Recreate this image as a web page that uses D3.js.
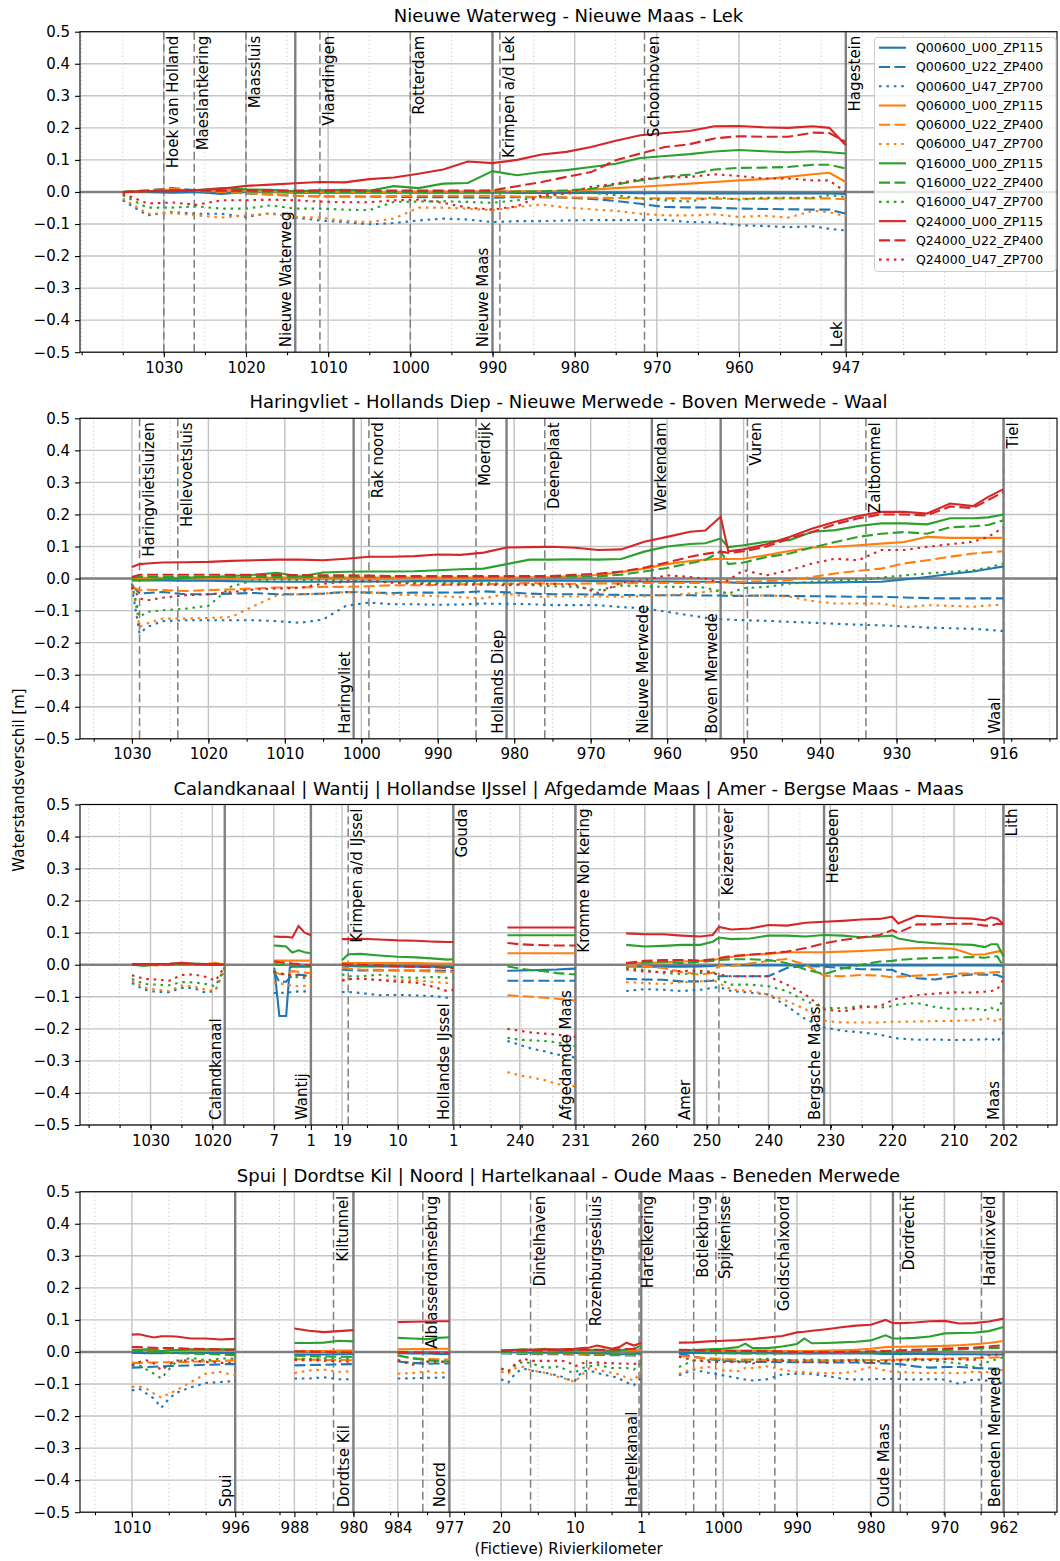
<!DOCTYPE html>
<html>
<head>
<meta charset="utf-8">
<script src="https://cdn.jsdelivr.net/npm/d3@7"></script>
<style>
  body { margin: 0; background: #fff; }
  text { font-family: "DejaVu Sans", sans-serif; fill: #000; }
</style>
</head>
<body>
<svg></svg>
<script>
// ---- data -------------------------------------------------------------
const seriesNames = [
  "Q00600_U00_ZP115", "Q00600_U22_ZP400", "Q00600_U47_ZP700",
  "Q06000_U00_ZP115", "Q06000_U22_ZP400", "Q06000_U47_ZP700",
  "Q16000_U00_ZP115", "Q16000_U22_ZP400", "Q16000_U47_ZP700",
  "Q24000_U00_ZP115", "Q24000_U22_ZP400", "Q24000_U47_ZP700"
]

// panel 1: Nieuwe Waterweg - Nieuwe Maas - Lek
const lekKm = [1035, 1032, 1029, 1026, 1023, 1020, 1017, 1014, 1011, 1008, 1005, 1002, 999, 996, 993, 990, 987, 984, 981, 978, 975, 972, 969, 966, 963, 960, 957, 954, 951, 949, 947]
const lekLevels = [
  [0, 0, -0.002, 0, -0.006, 0, 0, -0.002, -0.002, -0.002, -0.002, -0.002, -0.002, -0.002, -0.002, -0.002, -0.003, -0.003, -0.003, -0.003, -0.003, -0.004, -0.004, -0.004, -0.005, -0.005, -0.005, -0.005, -0.005, -0.005, -0.006],
  [0, 0.005, 0.012, 0.005, 0, -0.005, -0.008, -0.012, -0.014, -0.014, -0.015, -0.015, -0.016, -0.016, -0.017, -0.018, -0.016, -0.016, -0.018, -0.022, -0.028, -0.037, -0.047, -0.048, -0.049, -0.052, -0.053, -0.054, -0.055, -0.055, -0.068],
  [-0.026, -0.073, -0.063, -0.068, -0.068, -0.078, -0.066, -0.08, -0.089, -0.094, -0.101, -0.097, -0.089, -0.083, -0.086, -0.094, -0.091, -0.091, -0.089, -0.088, -0.088, -0.088, -0.087, -0.094, -0.095, -0.104, -0.106, -0.11, -0.107, -0.115, -0.12],
  [0, 0.002, 0.008, 0.004, 0.003, 0.002, 0.001, 0, 0, 0, 0, 0, 0.001, 0.001, 0.001, 0.002, 0.002, 0.002, 0.003, 0.007, 0.012, 0.016, 0.021, 0.026, 0.031, 0.036, 0.04, 0.047, 0.055, 0.06, 0.031],
  [0, 0.005, 0.01, 0.004, 0, -0.004, -0.008, -0.012, -0.013, -0.015, -0.014, -0.013, -0.012, -0.012, -0.012, -0.012, -0.014, -0.016, -0.017, -0.018, -0.019, -0.02, -0.02, -0.02, -0.021, -0.021, -0.021, -0.02, -0.02, -0.02, -0.023],
  [-0.02, -0.068, -0.066, -0.073, -0.08, -0.073, -0.068, -0.078, -0.08, -0.09, -0.094, -0.083, -0.049, -0.049, -0.052, -0.057, -0.047, -0.039, -0.049, -0.054, -0.059, -0.068, -0.073, -0.073, -0.07, -0.078, -0.074, -0.08, -0.059, -0.063, -0.076],
  [0, 0.002, 0.003, 0.005, 0.012, 0.008, 0.007, 0.002, 0.005, 0.007, 0.004, 0.018, 0.012, 0.026, 0.028, 0.065, 0.052, 0.062, 0.068, 0.078, 0.088, 0.106, 0.112, 0.118, 0.126, 0.131, 0.127, 0.124, 0.127, 0.124, 0.12],
  [0, 0.003, 0.005, 0.004, 0.003, 0.002, 0.001, 0, 0, 0, 0, 0, 0, 0, 0, 0, 0.001, 0.002, 0.005, 0.01, 0.023, 0.036, 0.047, 0.054, 0.07, 0.075, 0.076, 0.078, 0.085, 0.085, 0.073],
  [-0.01, -0.049, -0.049, -0.045, -0.052, -0.052, -0.042, -0.052, -0.052, -0.055, -0.057, -0.031, -0.03, -0.029, -0.031, -0.034, -0.026, -0.016, -0.005, -0.003, -0.01, -0.02, -0.026, -0.03, -0.016, -0.024, -0.018, -0.018, -0.018, -0.01, -0.016],
  [0, 0.002, 0.002, 0.006, 0.01, 0.019, 0.023, 0.027, 0.031, 0.03, 0.04, 0.045, 0.057, 0.07, 0.095, 0.09, 0.1, 0.117, 0.125, 0.14, 0.16, 0.177, 0.184, 0.19, 0.205, 0.206, 0.202, 0.2, 0.205, 0.2, 0.146],
  [0, 0.003, 0.005, 0.005, 0.005, 0.005, 0.005, 0.004, 0.004, 0.004, 0.004, 0.004, 0.004, 0.004, 0.004, 0.005, 0.018, 0.031, 0.047, 0.062, 0.099, 0.12, 0.14, 0.149, 0.167, 0.174, 0.172, 0.172, 0.185, 0.184, 0.156],
  [-0.005, -0.036, -0.033, -0.04, -0.026, -0.026, -0.024, -0.026, -0.03, -0.032, -0.032, -0.026, -0.024, -0.034, -0.049, -0.055, -0.045, -0.01, -0.003, 0.016, 0.026, 0.04, 0.045, 0.047, 0.055, 0.05, 0.042, 0.042, 0.036, 0.036, 0]
]
const lekTicks = [1030, 1020, 1010, 1000, 990, 980, 970, 960, 947]
const lekMarks = [
  ["Hoek van Holland", 1030, "station"], ["Maeslantkering", 1026.3, "station"], ["Maassluis", 1020, "station"],
  ["Vlaardingen", 1011, "station"], ["Rotterdam", 1000, "station"], ["Krimpen a/d Lek", 989.1, "station"],
  ["Schoonhoven", 971.5, "station"], ["Hagestein", 947, "station"],
  ["Nieuwe Waterweg", 1014, "section"], ["Nieuwe Maas", 990, "section"], ["Lek", 947, "section"]
]

// panel 2: Haringvliet - Hollands Diep - Nieuwe Merwede - Boven Merwede - Waal
const waalKm = [1030, 1029, 1028, 1026, 1023, 1020, 1017, 1014, 1011, 1008, 1005, 1002, 999, 996, 993, 990, 987, 984, 981, 978, 975, 972, 969, 966, 963, 960, 957, 955, 953, 952, 950, 947, 944, 941, 938, 935, 932, 929, 926, 923, 920, 918, 916]
const waalLevels = [
  [-0.005, -0.006, -0.006, -0.006, -0.007, -0.007, -0.008, -0.009, -0.01, -0.01, -0.01, -0.01, -0.009, -0.009, -0.008, -0.008, -0.008, -0.007, -0.007, -0.007, -0.007, -0.007, -0.008, -0.008, -0.009, -0.009, -0.01, -0.01, -0.011, -0.012, -0.014, -0.014, -0.013, -0.013, -0.012, -0.011, -0.01, -0.003, 0.005, 0.014, 0.022, 0.03, 0.038],
  [-0.021, -0.047, -0.045, -0.042, -0.049, -0.049, -0.047, -0.045, -0.049, -0.049, -0.047, -0.042, -0.044, -0.045, -0.044, -0.044, -0.043, -0.04, -0.043, -0.047, -0.049, -0.049, -0.05, -0.051, -0.052, -0.052, -0.052, -0.053, -0.053, -0.054, -0.054, -0.053, -0.054, -0.055, -0.056, -0.057, -0.057, -0.059, -0.061, -0.062, -0.062, -0.062, -0.062],
  [-0.026, -0.172, -0.151, -0.133, -0.13, -0.13, -0.13, -0.13, -0.133, -0.138, -0.128, -0.085, -0.075, -0.08, -0.08, -0.082, -0.081, -0.078, -0.079, -0.08, -0.083, -0.083, -0.083, -0.089, -0.093, -0.104, -0.115, -0.122, -0.127, -0.128, -0.13, -0.132, -0.135, -0.138, -0.141, -0.144, -0.146, -0.149, -0.153, -0.155, -0.157, -0.16, -0.164],
  [0, 0.002, 0.002, 0.002, 0.002, 0.002, 0.002, 0.002, 0.003, 0.003, 0.003, 0.003, 0.003, 0.003, 0.003, 0.003, 0.003, 0.003, 0.003, 0.004, 0.005, 0.008, 0.011, 0.02, 0.031, 0.045, 0.055, 0.059, 0.062, 0.061, 0.062, 0.073, 0.086, 0.097, 0.099, 0.104, 0.109, 0.114, 0.13, 0.127, 0.127, 0.127, 0.127],
  [-0.026, -0.036, -0.035, -0.036, -0.039, -0.036, -0.034, -0.031, -0.028, -0.028, -0.026, -0.026, -0.024, -0.021, -0.021, -0.02, -0.018, -0.018, -0.016, -0.014, -0.016, -0.016, -0.015, -0.015, -0.014, -0.014, -0.014, -0.013, -0.011, -0.01, -0.01, -0.008, -0.005, 0.005, 0.016, 0.024, 0.031, 0.047, 0.057, 0.068, 0.078, 0.082, 0.085],
  [-0.016, -0.151, -0.14, -0.125, -0.125, -0.123, -0.12, -0.085, -0.052, -0.049, -0.047, -0.042, -0.042, -0.049, -0.052, -0.055, -0.058, -0.062, -0.047, -0.057, -0.056, -0.056, -0.056, -0.057, -0.055, -0.052, -0.047, -0.042, -0.036, -0.05, -0.055, -0.052, -0.057, -0.07, -0.078, -0.078, -0.078, -0.09, -0.083, -0.085, -0.088, -0.084, -0.081],
  [-0.006, -0.005, -0.004, -0.002, 0.002, 0.005, 0.008, 0.012, 0.018, 0.006, 0.019, 0.021, 0.022, 0.022, 0.023, 0.026, 0.029, 0.031, 0.045, 0.059, 0.059, 0.06, 0.059, 0.061, 0.084, 0.1, 0.108, 0.11, 0.125, 0.098, 0.104, 0.115, 0.12, 0.146, 0.151, 0.164, 0.172, 0.172, 0.169, 0.188, 0.188, 0.191, 0.2],
  [0.003, 0.005, 0.005, 0.005, 0.005, 0.005, 0.005, 0.005, 0.005, 0.005, 0.005, 0.005, 0.005, 0.005, 0.005, 0.005, 0.005, 0.005, 0.005, 0.005, 0.005, 0.006, 0.007, 0.012, 0.022, 0.033, 0.048, 0.058, 0.085, 0.045, 0.05, 0.067, 0.078, 0.097, 0.114, 0.13, 0.14, 0.145, 0.14, 0.16, 0.163, 0.167, 0.182],
  [-0.016, -0.12, -0.104, -0.099, -0.094, -0.085, -0.025, -0.005, -0.003, -0.005, -0.005, -0.007, -0.01, -0.01, -0.013, -0.013, -0.013, -0.014, -0.016, -0.02, -0.024, -0.026, -0.036, -0.022, -0.024, -0.026, -0.026, -0.028, -0.042, -0.047, -0.03, -0.026, -0.016, -0.01, -0.005, -0.005, 0.003, 0.01, 0.016, 0.021, 0.026, 0.034, 0.047],
  [0.036, 0.045, 0.047, 0.05, 0.051, 0.052, 0.055, 0.057, 0.059, 0.059, 0.057, 0.062, 0.068, 0.068, 0.07, 0.075, 0.074, 0.081, 0.097, 0.098, 0.099, 0.096, 0.089, 0.091, 0.115, 0.13, 0.146, 0.15, 0.193, 0.085, 0.091, 0.107, 0.13, 0.156, 0.177, 0.195, 0.208, 0.208, 0.203, 0.234, 0.226, 0.255, 0.279],
  [0.005, 0.012, 0.012, 0.012, 0.012, 0.012, 0.012, 0.012, 0.011, 0.011, 0.01, 0.01, 0.009, 0.008, 0.008, 0.008, 0.008, 0.008, 0.008, 0.008, 0.008, 0.012, 0.015, 0.022, 0.034, 0.05, 0.068, 0.077, 0.084, 0.08, 0.085, 0.1, 0.125, 0.145, 0.17, 0.188, 0.2, 0.2, 0.197, 0.225, 0.22, 0.245, 0.27],
  [-0.026, -0.062, -0.068, -0.06, -0.052, -0.049, -0.042, -0.034, -0.031, -0.029, -0.016, -0.01, -0.007, -0.013, -0.016, -0.018, -0.019, -0.019, -0.021, -0.018, -0.016, -0.02, -0.045, -0.013, -0.005, 0.01, 0.005, 0, -0.013, -0.005, 0.026, 0.01, 0.026, 0.047, 0.062, 0.057, 0.089, 0.089, 0.099, 0.107, 0.115, 0.13, 0.16]
]
const waalTicks = [1030, 1020, 1010, 1000, 990, 980, 970, 960, 950, 940, 930, 916]
const waalMarks = [
  ["Haringvlietsluizen", 1029, "station"], ["Hellevoetsluis", 1024, "station"], ["Rak noord", 999, "station"],
  ["Moerdijk", 985, "station"], ["Deeneplaat", 976, "station"], ["Werkendam", 962, "station"],
  ["Vuren", 949.5, "station"], ["Zaltbommel", 934, "station"], ["Tiel", 916, "station"],
  ["Haringvliet", 1001, "section"], ["Hollands Diep", 981, "section"], ["Nieuwe Merwede", 962, "section"],
  ["Boven Merwede", 953, "section"], ["Waal", 916, "section"]
]

// panel 3: Calandkanaal | Wantij | Hollandse IJssel | Afgedamde Maas | Amer - Bergse Maas - Maas
const calandKm = [1033, 1031, 1029, 1027, 1025, 1023, 1021, 1019.5, 1018]
const calandLevels = [
  [0.001, 0, 0, 0, 0, 0, 0, 0, 0],
  [0, 0, -0.001, -0.001, -0.001, -0.001, -0.001, -0.001, 0],
  [-0.057, -0.078, -0.085, -0.086, -0.072, -0.073, -0.088, -0.08, -0.012],
  [0.002, 0.001, 0, 0.001, 0.002, 0.001, 0.002, 0.006, 0],
  [0, 0, -0.002, -0.001, 0, -0.001, 0, 0.003, 0],
  [-0.05, -0.072, -0.078, -0.082, -0.065, -0.068, -0.078, -0.082, -0.012],
  [0, -0.004, 0.002, 0.002, 0.003, 0.004, 0.002, 0.001, 0],
  [0, 0, 0, 0, 0.001, 0.001, 0, 0, 0],
  [-0.044, -0.06, -0.062, -0.064, -0.054, -0.055, -0.06, -0.067, -0.008],
  [0.002, 0.002, 0.002, 0.003, 0.006, 0.003, 0.002, 0.002, 0],
  [0.001, 0.001, 0.001, 0.002, 0.004, 0.002, 0.001, 0.001, 0],
  [-0.033, -0.044, -0.046, -0.05, -0.032, -0.03, -0.038, -0.05, -0.005]
]
const calandTicks = [1030, 1020]
const calandMarks = [["Calandkanaal", 1018, "section"]]

const wantijKm = [7, 6.9, 6.1, 5, 4.4, 4, 3, 2, 1]
const wantijLevels = [
  [-0.01, -0.012, -0.16, -0.16, -0.008, -0.006, -0.005, -0.006, -0.006],
  [-0.02, -0.025, -0.053, -0.053, -0.04, -0.036, -0.031, -0.033, -0.036],
  [-0.088, -0.088, -0.088, -0.087, -0.086, -0.085, -0.083, -0.083, -0.083],
  [0.013, 0.013, 0.013, 0.013, 0.013, 0.013, 0.013, 0.013, 0.013],
  [-0.024, -0.025, -0.028, -0.03, -0.024, -0.02, -0.022, -0.024, -0.027],
  [-0.055, -0.056, -0.058, -0.062, -0.064, -0.065, -0.067, -0.066, -0.064],
  [0.06, 0.06, 0.059, 0.057, 0.045, 0.038, 0.045, 0.039, 0.036],
  [0.002, 0.002, 0, 0, -0.001, -0.002, -0.003, -0.004, -0.004],
  [-0.025, -0.025, -0.028, -0.03, -0.033, -0.035, -0.04, -0.042, -0.045],
  [0.088, 0.088, 0.087, 0.087, 0.086, 0.085, 0.121, 0.1, 0.092],
  [0.01, 0.01, 0.008, 0.006, 0.005, 0.004, 0.002, 0, -0.002],
  [-0.021, -0.022, -0.026, -0.031, -0.032, -0.033, -0.031, -0.035, -0.038]
]
const wantijTicks = [7, 1]
const wantijMarks = [["Wantij", 1, "section"]]

const ijsselKm = [19, 18, 16, 13, 10, 7, 4, 2, 1]
const ijsselLevels = [
  [-0.003, -0.004, -0.005, -0.005, -0.005, -0.006, -0.006, -0.007, -0.007],
  [-0.015, -0.017, -0.018, -0.018, -0.018, -0.018, -0.018, -0.019, -0.019],
  [-0.085, -0.085, -0.088, -0.095, -0.094, -0.096, -0.098, -0.103, -0.103],
  [0.005, 0.005, 0.005, 0.005, 0.005, 0.005, 0.004, 0.004, 0.004],
  [-0.008, -0.012, -0.015, -0.016, -0.017, -0.019, -0.021, -0.023, -0.023],
  [-0.047, -0.045, -0.043, -0.047, -0.047, -0.049, -0.054, -0.057, -0.054],
  [0.014, 0.033, 0.034, 0.029, 0.025, 0.023, 0.019, 0.016, 0.017],
  [0, -0.002, -0.003, -0.004, -0.005, -0.006, -0.007, -0.008, -0.008],
  [-0.03, -0.036, -0.036, -0.031, -0.038, -0.041, -0.038, -0.041, -0.04],
  [0.08, 0.08, 0.081, 0.079, 0.076, 0.075, 0.072, 0.071, 0.071],
  [0.002, 0.001, 0, -0.002, -0.004, -0.006, -0.008, -0.01, -0.01],
  [-0.05, -0.045, -0.043, -0.048, -0.053, -0.056, -0.07, -0.082, -0.078]
]
const ijsselTicks = [19, 10, 1]
const ijsselMarks = [["Krimpen a/d IJssel", 18, "station"], ["Gouda", 1, "station"], ["Hollandse IJssel", 1, "section"]]

const afgedamdeKm = [242, 240, 238, 236, 234, 232, 231]
const afgedamdeLevels = [
  [-0.019, -0.018, -0.017, -0.016, -0.015, -0.013, -0.012],
  [-0.05, -0.05, -0.05, -0.05, -0.05, -0.05, -0.05],
  [-0.238, -0.25, -0.262, -0.27, -0.28, -0.285, -0.29],
  [0.036, 0.036, 0.036, 0.036, 0.036, 0.036, 0.036],
  [-0.095, -0.098, -0.1, -0.103, -0.106, -0.11, -0.112],
  [-0.335, -0.345, -0.352, -0.36, -0.372, -0.378, -0.378],
  [0.092, 0.092, 0.092, 0.092, 0.092, 0.092, 0.092],
  [-0.005, -0.012, -0.017, -0.02, -0.026, -0.029, -0.03],
  [-0.228, -0.234, -0.236, -0.238, -0.242, -0.25, -0.254],
  [0.116, 0.116, 0.116, 0.116, 0.116, 0.116, 0.116],
  [0.068, 0.064, 0.062, 0.061, 0.06, 0.06, 0.06],
  [-0.2, -0.206, -0.212, -0.215, -0.218, -0.222, -0.225]
]
const afgedamdeTicks = [240, 231]
const afgedamdeMarks = [["Kromme Nol kering", 231, "station"], ["Afgedamde Maas", 231, "section"]]

const maasKm = [263, 260, 257, 254, 251, 249, 248, 246, 243, 240, 237, 234, 231, 228, 225, 222, 220, 219, 216, 213, 210, 207, 205, 204, 203, 202]
const maasLevels = [
  [-0.005, -0.006, -0.006, -0.006, -0.005, -0.004, -0.001, -0.002, -0.002, -0.002, -0.002, -0.002, -0.002, -0.002, -0.002, -0.002, -0.002, -0.002, -0.002, -0.002, -0.002, -0.002, -0.002, -0.002, -0.002, -0.003],
  [-0.044, -0.046, -0.047, -0.052, -0.052, -0.05, -0.036, -0.036, -0.036, -0.036, -0.01, -0.004, -0.006, -0.01, -0.014, -0.015, -0.016, -0.025, -0.042, -0.046, -0.036, -0.03, -0.031, -0.031, -0.032, -0.04],
  [-0.082, -0.076, -0.078, -0.082, -0.078, -0.072, -0.07, -0.082, -0.087, -0.093, -0.129, -0.17, -0.196, -0.206, -0.211, -0.218, -0.227, -0.23, -0.234, -0.233, -0.235, -0.234, -0.233, -0.23, -0.24, -0.211],
  [0.005, 0.005, 0.008, 0.01, 0.012, 0.015, 0.018, 0.024, 0.031, 0.034, 0.039, 0.039, 0.039, 0.041, 0.043, 0.046, 0.048, 0.05, 0.052, 0.052, 0.05, 0.031, 0.033, 0.037, 0.041, 0.044],
  [-0.002, -0.005, -0.01, -0.023, -0.031, -0.025, -0.002, -0.004, 0.004, 0.012, 0.018, 0, -0.034, -0.036, -0.032, -0.034, -0.039, -0.037, -0.034, -0.031, -0.028, -0.027, -0.026, -0.024, -0.023, -0.023],
  [-0.054, -0.057, -0.06, -0.054, -0.052, -0.047, -0.057, -0.077, -0.082, -0.093, -0.113, -0.139, -0.175, -0.18, -0.18, -0.18, -0.178, -0.178, -0.177, -0.176, -0.175, -0.173, -0.17, -0.167, -0.18, -0.16],
  [0.062, 0.057, 0.059, 0.062, 0.062, 0.072, 0.085, 0.08, 0.082, 0.091, 0.091, 0.088, 0.093, 0.091, 0.086, 0.088, 0.091, 0.082, 0.072, 0.067, 0.064, 0.062, 0.055, 0.064, 0.064, 0.026],
  [0.005, 0.007, 0.01, 0.005, 0.01, 0.012, 0.015, 0.017, 0.017, 0.015, 0.005, -0.015, -0.029, -0.012, 0, 0.01, 0.012, 0.015, 0.019, 0.021, 0.023, 0.024, 0.022, 0.025, 0.026, -0.005],
  [-0.01, -0.016, -0.026, -0.029, -0.026, -0.018, -0.046, -0.062, -0.062, -0.067, -0.082, -0.113, -0.134, -0.136, -0.129, -0.134, -0.129, -0.124, -0.119, -0.132, -0.139, -0.136, -0.142, -0.134, -0.145, -0.105],
  [0.098, 0.095, 0.095, 0.091, 0.088, 0.093, 0.118, 0.11, 0.113, 0.124, 0.122, 0.131, 0.134, 0.137, 0.141, 0.143, 0.15, 0.129, 0.153, 0.15, 0.146, 0.144, 0.139, 0.148, 0.144, 0.127],
  [0.005, 0.012, 0.015, 0.015, 0.013, 0.017, 0.021, 0.027, 0.031, 0.036, 0.041, 0.052, 0.067, 0.077, 0.085, 0.093, 0.108, 0.1, 0.126, 0.126, 0.128, 0.128, 0.122, 0.122, 0.128, 0.126],
  [-0.015, -0.021, -0.023, -0.019, -0.019, -0.026, -0.031, -0.036, -0.036, -0.036, -0.062, -0.093, -0.139, -0.146, -0.133, -0.129, -0.111, -0.105, -0.095, -0.09, -0.086, -0.087, -0.084, -0.082, -0.077, -0.045]
]
const maasTicks = [260, 250, 240, 230, 220, 210, 202]
const maasMarks = [
  ["Keizersveer", 248, "station"], ["Heesbeen", 231, "station"], ["Lith", 202, "station"],
  ["Amer", 252, "section"], ["Bergsche Maas", 231, "section"], ["Maas", 202, "section"]
]

// panel 4: Spui | Dordtse Kil | Noord | Hartelkanaal - Oude Maas - Beneden Merwede
const spuiKm = [1010, 1009, 1008, 1007, 1006, 1005, 1004, 1002, 1000, 998, 997, 996]
const spuiLevels = [
  [-0.003, -0.003, -0.004, -0.004, -0.004, -0.003, -0.003, -0.003, -0.003, -0.003, -0.003, -0.003],
  [-0.049, -0.048, -0.047, -0.046, -0.045, -0.044, -0.043, -0.042, -0.04, -0.039, -0.038, -0.038],
  [-0.12, -0.115, -0.13, -0.146, -0.174, -0.146, -0.128, -0.11, -0.097, -0.094, -0.092, -0.091],
  [0.003, 0.003, 0.003, 0.003, 0.003, 0.003, 0.003, 0.003, 0.003, 0.003, 0.003, 0.003],
  [-0.034, -0.034, -0.033, -0.033, -0.032, -0.032, -0.032, -0.031, -0.029, -0.028, -0.027, -0.026],
  [-0.109, -0.108, -0.115, -0.13, -0.143, -0.13, -0.12, -0.094, -0.068, -0.062, -0.068, -0.073],
  [0.006, 0.007, 0.008, 0.008, 0.002, 0.006, 0.006, 0.008, 0.008, 0.008, 0.008, 0.008],
  [0.004, 0.003, 0.002, 0, -0.002, -0.003, -0.004, -0.005, -0.006, -0.008, -0.009, -0.01],
  [-0.042, -0.041, -0.055, -0.068, -0.083, -0.055, -0.031, -0.018, -0.026, -0.021, -0.02, -0.021],
  [0.054, 0.055, 0.05, 0.045, 0.049, 0.049, 0.048, 0.042, 0.042, 0.039, 0.04, 0.041],
  [0.015, 0.015, 0.014, 0.013, 0.012, 0.012, 0.012, 0.01, 0.009, 0.008, 0.007, 0.007],
  [-0.042, -0.031, -0.026, -0.036, -0.057, -0.04, -0.027, -0.026, -0.031, -0.034, -0.034, -0.033]
]
const spuiTicks = [1010, 996]
const spuiMarks = [["Spui", 996, "section"]]

const kilKm = [988, 986, 984, 982, 980]
const kilLevels = [
  [-0.008, -0.008, -0.008, -0.007, -0.007],
  [-0.042, -0.041, -0.04, -0.039, -0.038],
  [-0.083, -0.083, -0.079, -0.085, -0.085],
  [0.003, 0.003, 0.003, 0.004, 0.004],
  [-0.023, -0.024, -0.025, -0.025, -0.026],
  [-0.066, -0.058, -0.055, -0.062, -0.06],
  [0.028, 0.028, 0.029, 0.035, 0.033],
  [-0.012, -0.013, -0.014, -0.015, -0.016],
  [-0.02, -0.022, -0.02, -0.02, -0.022],
  [0.073, 0.066, 0.062, 0.065, 0.068],
  [0.002, 0.001, 0, -0.001, -0.002],
  [-0.025, -0.026, -0.027, -0.029, -0.031]
]
const kilTicks = [988, 980]
const kilMarks = [["Kiltunnel", 982.7, "station"], ["Dordtse Kil", 980, "section"]]

const noordKm = [984, 982, 980, 978.5, 977]
const noordLevels = [
  [-0.004, -0.005, -0.005, -0.006, -0.006],
  [-0.03, -0.034, -0.037, -0.036, -0.036],
  [-0.083, -0.082, -0.081, -0.08, -0.079],
  [0.008, 0.009, 0.009, 0.01, 0.01],
  [-0.012, -0.02, -0.022, -0.023, -0.024],
  [-0.068, -0.066, -0.06, -0.066, -0.063],
  [0.044, 0.042, 0.04, 0.044, 0.046],
  [-0.01, -0.02, -0.026, -0.028, -0.03],
  [-0.025, -0.036, -0.032, -0.031, -0.031],
  [0.093, 0.094, 0.095, 0.096, 0.096],
  [0, -0.001, -0.002, -0.003, -0.003],
  [-0.026, -0.04, -0.03, -0.03, -0.031]
]
const noordTicks = [984, 977]
const noordMarks = [["Alblasserdamsebrug", 980.6, "station"], ["Noord", 977, "section"]]

const hartelKm = [20, 19, 18, 17, 16, 14, 12, 11, 10, 9, 8, 7, 6, 5, 4, 3, 2, 1]
const hartelLevels = [
  [0, 0, -0.001, -0.001, -0.002, -0.002, -0.002, -0.003, -0.003, -0.004, -0.004, -0.004, -0.005, -0.006, -0.007, -0.007, -0.006, -0.004],
  [-0.005, -0.005, -0.006, -0.006, -0.006, -0.007, -0.007, -0.008, -0.008, -0.008, -0.009, -0.009, -0.009, -0.01, -0.01, -0.011, -0.011, -0.012],
  [-0.085, -0.095, -0.065, -0.052, -0.058, -0.065, -0.075, -0.085, -0.09, -0.06, -0.058, -0.065, -0.072, -0.075, -0.083, -0.095, -0.104, -0.08],
  [0.003, 0.003, 0.003, 0.003, 0.003, 0.003, 0.003, 0.003, 0.003, 0.004, 0.004, 0.004, 0.004, 0.004, 0.005, 0.005, 0.006, 0.007],
  [-0.003, -0.003, -0.004, -0.004, -0.004, -0.005, -0.005, -0.005, -0.006, -0.006, -0.006, -0.007, -0.007, -0.008, -0.008, -0.009, -0.01, -0.015],
  [-0.062, -0.066, -0.05, -0.046, -0.057, -0.065, -0.08, -0.085, -0.094, -0.07, -0.05, -0.055, -0.06, -0.065, -0.07, -0.08, -0.09, -0.06],
  [0.005, 0.006, 0.007, 0.008, 0.006, 0.01, 0.002, 0.004, 0.005, 0.006, 0.006, 0.007, 0.004, 0.002, 0.004, 0.008, 0.01, 0.02],
  [0, 0, -0.001, -0.001, -0.002, -0.002, -0.003, -0.003, -0.004, -0.004, -0.005, -0.005, -0.005, -0.006, -0.006, -0.006, -0.007, -0.008],
  [-0.052, -0.06, -0.04, -0.03, -0.035, -0.05, -0.045, -0.06, -0.065, -0.05, -0.045, -0.04, -0.045, -0.05, -0.05, -0.05, -0.055, -0.035],
  [0.003, 0.004, 0.006, 0.007, 0.007, 0.008, 0.008, 0.009, 0.01, 0.012, 0.014, 0.02, 0.015, 0.01, 0.015, 0.029, 0.02, 0.028],
  [0.004, 0.004, 0.005, 0.005, 0.005, 0.005, 0.006, 0.006, 0.006, 0.006, 0.007, 0.007, 0.007, 0.008, 0.008, 0.009, 0.01, 0.012],
  [-0.052, -0.06, -0.035, -0.02, -0.028, -0.028, -0.027, -0.03, -0.045, -0.035, -0.034, -0.033, -0.034, -0.035, -0.036, -0.036, -0.038, -0.03]
]
const hartelTicks = [20, 10, 1]
const hartelMarks = [
  ["Dintelhaven", 16, "station"], ["Rozenburgsesluis", 8.4, "station"], ["Hartelkering", 1.3, "station"],
  ["Hartelkanaal", 1, "section"]
]

const oudeMaasKm = [1006, 1004, 1002, 1000, 998, 997, 996, 994, 992, 990, 989, 988, 986, 984, 982, 980, 978, 977, 976, 974, 972, 970, 968, 966, 964, 962]
const oudeMaasLevels = [
  [-0.003, -0.003, -0.004, -0.004, -0.004, -0.004, -0.004, -0.004, -0.005, -0.005, -0.005, -0.005, -0.005, -0.005, -0.005, -0.005, -0.006, -0.006, -0.006, -0.006, -0.006, -0.007, -0.007, -0.007, -0.008, -0.008],
  [-0.005, -0.015, -0.022, -0.028, -0.03, -0.03, -0.031, -0.031, -0.032, -0.032, -0.032, -0.032, -0.032, -0.033, -0.033, -0.034, -0.036, -0.037, -0.038, -0.045, -0.049, -0.047, -0.047, -0.05, -0.052, -0.052],
  [-0.073, -0.055, -0.065, -0.073, -0.082, -0.086, -0.089, -0.085, -0.07, -0.068, -0.068, -0.069, -0.075, -0.083, -0.086, -0.085, -0.084, -0.084, -0.085, -0.086, -0.085, -0.086, -0.1, -0.085, -0.09, -0.099],
  [0.005, 0.005, 0.005, 0.005, 0.004, 0.004, 0.004, 0.004, 0.003, 0.003, 0.003, 0.003, 0.004, 0.005, 0.007, 0.01, 0.015, 0.016, 0.016, 0.017, 0.018, 0.019, 0.021, 0.024, 0.028, 0.034],
  [-0.012, -0.016, -0.02, -0.022, -0.024, -0.024, -0.024, -0.025, -0.025, -0.026, -0.026, -0.026, -0.026, -0.026, -0.025, -0.025, -0.025, -0.024, -0.024, -0.023, -0.022, -0.021, -0.02, -0.019, -0.018, -0.016],
  [-0.068, -0.052, -0.047, -0.057, -0.06, -0.05, -0.05, -0.045, -0.055, -0.063, -0.063, -0.065, -0.066, -0.066, -0.06, -0.047, -0.058, -0.062, -0.062, -0.065, -0.066, -0.065, -0.066, -0.062, -0.063, -0.055],
  [0.005, 0.006, 0.008, 0.01, 0.015, 0.026, 0.012, 0.012, 0.017, 0.025, 0.042, 0.027, 0.028, 0.03, 0.032, 0.036, 0.052, 0.042, 0.042, 0.044, 0.048, 0.058, 0.059, 0.06, 0.065, 0.078],
  [0.005, 0.003, 0, -0.003, -0.005, -0.005, -0.005, -0.005, -0.004, -0.004, -0.004, -0.004, -0.003, -0.003, -0.002, -0.001, 0, 0, 0.001, 0.002, 0.004, 0.006, 0.008, 0.01, 0.012, 0.013],
  [-0.047, -0.026, -0.026, -0.024, -0.029, -0.026, -0.024, -0.021, -0.024, -0.026, -0.024, -0.024, -0.026, -0.026, -0.024, -0.026, -0.031, -0.028, -0.027, -0.026, -0.026, -0.031, -0.036, -0.047, -0.03, -0.016],
  [0.029, 0.03, 0.033, 0.035, 0.037, 0.039, 0.04, 0.045, 0.05, 0.061, 0.063, 0.066, 0.071, 0.077, 0.082, 0.085, 0.1, 0.09, 0.09, 0.092, 0.096, 0.097, 0.089, 0.09, 0.095, 0.104],
  [0.007, 0.006, 0.005, 0.004, 0.003, 0.003, 0.003, 0.002, 0.001, 0, 0, 0, 0, 0, 0.001, 0.002, 0.003, 0.004, 0.005, 0.007, 0.008, 0.01, 0.012, 0.014, 0.017, 0.021],
  [-0.015, -0.026, -0.031, -0.031, -0.031, -0.033, -0.036, -0.026, -0.028, -0.031, -0.031, -0.031, -0.034, -0.028, -0.028, -0.031, -0.028, -0.026, -0.025, -0.021, -0.025, -0.022, -0.023, -0.025, -0.01, -0.006]
]
const oudeMaasTicks = [1000, 990, 980, 970, 962]
const oudeMaasMarks = [
  ["Botlekbrug", 1004, "station"], ["Spijkenisse", 1001, "station"], ["Goidschalxoord", 993, "station"],
  ["Dordrecht", 976, "station"], ["Hardinxveld", 965, "station"],
  ["Oude Maas", 977, "section"], ["Beneden Merwede", 962, "section"]
]

// ---- layout -----------------------------------------------------------
const svgWidth = 1060
const svgHeight = 1561
const plotLeft = 80
const plotRight = 1057
const panelTops = [31.7, 418.3, 804.5, 1191.7]
const panelHeight = 320.5

const colors = ["#1f77b4", "#ff7f0e", "#2ca02c", "#d62728"]
const dashes = [null, "11,4.5", "2.6,4.8"]

// each segment maps river km k to a fictive position u = shift - k
const panels = [
  { title: "Nieuwe Waterweg - Nieuwe Maas - Lek", uMax: 118.9, minorStart: 0.2,
    segments: [{ shift: 1040.2, km: lekKm, levels: lekLevels, ticks: lekTicks, marks: lekMarks }] },
  { title: "Haringvliet - Hollands Diep - Nieuwe Merwede - Boven Merwede - Waal", uMax: 127.78, minorStart: 1.79,
    segments: [{ shift: 1036.79, km: waalKm, levels: waalLevels, ticks: waalTicks, marks: waalMarks }] },
  { title: "Calandkanaal | Wantij | Hollandse IJssel | Afgedamde Maas | Amer - Bergse Maas - Maas", uMax: 157.96, minorStart: 1.4,
    segments: [
      { shift: 1041.4, km: calandKm, levels: calandLevels, ticks: calandTicks, marks: calandMarks },
      { shift: 38.33, km: wantijKm, levels: wantijLevels, ticks: wantijTicks, marks: wantijMarks },
      { shift: 61.36, km: ijsselKm, levels: ijsselLevels, ticks: ijsselTicks, marks: ijsselMarks },
      { shift: 311.1, km: afgedamdeKm, levels: afgedamdeLevels, ticks: afgedamdeTicks, marks: afgedamdeMarks },
      { shift: 351.3, km: maasKm, levels: maasLevels, ticks: maasTicks, marks: maasMarks }
    ] },
  { title: "Spui | Dordtse Kil | Noord | Hartelkanaal - Oude Maas - Beneden Merwede", uMax: 132.38, minorStart: 2.03,
    segments: [
      { shift: 1017.03, km: spuiKm, levels: spuiLevels, ticks: spuiTicks, marks: spuiMarks },
      { shift: 1017.05, km: kilKm, levels: kilLevels, ticks: kilTicks, marks: kilMarks },
      { shift: 1027.05, km: noordKm, levels: noordLevels, ticks: noordTicks, marks: noordMarks },
      { shift: 77.05, km: hartelKm, levels: hartelLevels, ticks: hartelTicks, marks: hartelMarks },
      { shift: 1087.15, km: oudeMaasKm, levels: oudeMaasLevels, ticks: oudeMaasTicks, marks: oudeMaasMarks }
    ] }
]

const svg = d3.select("svg")
  .attr("width", svgWidth)
  .attr("height", svgHeight)

svg.append("rect").attr("width", svgWidth).attr("height", svgHeight).attr("fill", "#fff")

panels.forEach((panel, p) => {
  const top = panelTops[p]
  const bottom = top + panelHeight
  const xScale = d3.scaleLinear().domain([0, panel.uMax]).range([plotLeft, plotRight])
  const yScale = d3.scaleLinear().domain([-0.5, 0.5]).range([bottom, top])
  const g = svg.append("g")

  const majorU = []
  const majorLabels = []
  panel.segments.forEach((s) => {
    s.ticks.forEach((k) => { majorU.push(s.shift - k); majorLabels.push(k) })
  })
  const minorU = d3.range(panel.minorStart, panel.uMax, 5)
  const yTicks = d3.range(-5, 6).map((v) => v / 10)

  // grid
  g.selectAll(".minor-grid").data(minorU).enter().append("line")
    .attr("x1", (d) => xScale(d)).attr("x2", (d) => xScale(d))
    .attr("y1", top).attr("y2", bottom)
    .attr("stroke", "#c8c8c8").attr("stroke-width", 0.9).attr("stroke-dasharray", "1.4,2.6")
  g.selectAll(".major-grid").data(majorU).enter().append("line")
    .attr("x1", (d) => xScale(d)).attr("x2", (d) => xScale(d))
    .attr("y1", top).attr("y2", bottom)
    .attr("stroke", "#c4c4c4").attr("stroke-width", 1.4)
  g.selectAll(".y-grid").data(yTicks).enter().append("line")
    .attr("x1", plotLeft).attr("x2", plotRight)
    .attr("y1", (d) => yScale(d)).attr("y2", (d) => yScale(d))
    .attr("stroke", "#c4c4c4").attr("stroke-width", 1.4)

  // zero line
  g.append("line")
    .attr("x1", plotLeft).attr("x2", plotRight)
    .attr("y1", yScale(0)).attr("y2", yScale(0))
    .attr("stroke", "#808080").attr("stroke-width", 2.6)

  // location lines
  panel.segments.forEach((s) => {
    s.marks.forEach(([name, k, kind]) => {
      const x = xScale(s.shift - k)
      g.append("line")
        .attr("x1", x).attr("x2", x).attr("y1", top).attr("y2", bottom)
        .attr("stroke", "#7f7f7f")
        .attr("stroke-width", kind === "section" ? 2.4 : 1.5)
        .attr("stroke-dasharray", kind === "section" ? null : "8,4")
    })
  })

  // data lines
  const line = d3.line()
  panel.segments.forEach((s) => {
    s.levels.forEach((values, i) => {
      const pts = values.map((v, j) => [xScale(s.shift - s.km[j]), yScale(v)])
      g.append("path")
        .attr("d", line(pts))
        .attr("fill", "none")
        .attr("stroke", colors[Math.floor(i / 3)])
        .attr("stroke-width", 2.1)
        .attr("stroke-dasharray", dashes[i % 3])
    })
  })

  // location labels
  panel.segments.forEach((s) => {
    s.marks.forEach(([name, k, kind]) => {
      const x = xScale(s.shift - k)
      if (kind === "station") {
        g.append("text")
          .attr("transform", `translate(${x + 14},${top + 4}) rotate(-90)`)
          .attr("text-anchor", "end")
          .attr("font-size", 15)
          .text(name)
      } else {
        g.append("text")
          .attr("transform", `translate(${x - 4},${bottom - 5}) rotate(-90)`)
          .attr("text-anchor", "start")
          .attr("font-size", 15)
          .text(name)
      }
    })
  })

  // axes
  const xAxis = g.append("g")
    .attr("transform", `translate(0,${bottom})`)
    .call(d3.axisBottom(xScale).tickValues(majorU).tickFormat((d, i) => majorLabels[i]).tickSize(5).tickPadding(5))
  const xMinor = g.append("g")
    .attr("transform", `translate(0,${bottom})`)
    .call(d3.axisBottom(xScale).tickValues(minorU).tickFormat("").tickSize(3))
  const yAxis = g.append("g")
    .attr("transform", `translate(${plotLeft},0)`)
    .call(d3.axisLeft(yScale).tickValues(yTicks).tickFormat(d3.format(".1f")).tickSize(5).tickPadding(5))
  ;[xAxis, xMinor, yAxis].forEach((a) => {
    a.select(".domain").remove()
    a.selectAll("text").attr("font-size", 15).attr("font-family", "DejaVu Sans").attr("fill", "#000")
    a.selectAll("line").attr("stroke", "#000").attr("stroke-width", 1.1)
  })

  // frame
  g.append("rect")
    .attr("x", plotLeft).attr("y", top)
    .attr("width", plotRight - plotLeft).attr("height", panelHeight)
    .attr("fill", "none").attr("stroke", "#000").attr("stroke-width", 1.1)

  // title
  g.append("text")
    .attr("x", (plotLeft + plotRight) / 2).attr("y", top - 10)
    .attr("text-anchor", "middle")
    .attr("font-size", 18)
    .text(panel.title)
})

// legend in the first panel
const legendGroup = svg.append("g").attr("transform", "translate(874.5,37.5)")
legendGroup.append("rect")
  .attr("width", 181.5).attr("height", 234).attr("rx", 3)
  .attr("fill", "#fff").attr("fill-opacity", 0.8)
  .attr("stroke", "#cccccc").attr("stroke-width", 1)
seriesNames.forEach((name, i) => {
  const y = 10.2 + i * 19.27
  legendGroup.append("line")
    .attr("x1", 4.5).attr("x2", 31.5).attr("y1", y).attr("y2", y)
    .attr("stroke", colors[Math.floor(i / 3)])
    .attr("stroke-width", 2.1)
    .attr("stroke-dasharray", dashes[i % 3])
  legendGroup.append("text")
    .attr("x", 41.5).attr("y", y).attr("dy", "0.35em")
    .attr("font-size", 12.5)
    .text(name)
})

// figure labels
svg.append("text")
  .attr("transform", "translate(24,780) rotate(-90)")
  .attr("text-anchor", "middle")
  .attr("font-size", 15)
  .text("Waterstandsverschil [m]")
svg.append("text")
  .attr("x", (plotLeft + plotRight) / 2).attr("y", 1554)
  .attr("text-anchor", "middle")
  .attr("font-size", 15)
  .text("(Fictieve) Rivierkilometer")
</script>
</body>
</html>
